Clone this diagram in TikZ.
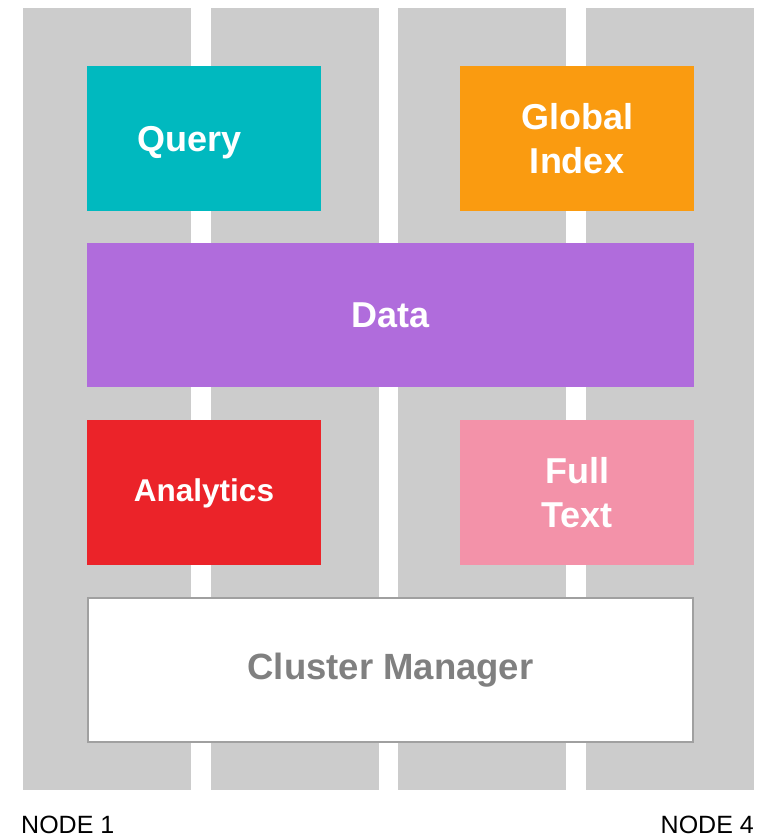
\documentclass[tikz,border=0pt]{standalone}
\usepackage{fontspec}
\setmainfont{Liberation Sans}
\definecolor{colgray}{HTML}{CCCCCC}
\definecolor{cteal}{HTML}{00B9BF}
\definecolor{corange}{HTML}{FA9B10}
\definecolor{cpurple}{HTML}{B06CDC}
\definecolor{cred}{HTML}{EB2329}
\definecolor{cpink}{HTML}{F392A9}
\definecolor{cmgrtext}{HTML}{808080}
\definecolor{cmgrline}{HTML}{A0A0A0}
\begin{document}
\begin{tikzpicture}[x=1pt,y=-1pt,
  colbar/.style={fill=colgray, draw=none},
  blk/.style={draw=none, inner sep=0pt, text=white,
    font=\fontsize{36}{44}\selectfont\bfseries, align=center,
    minimum width=234pt, minimum height=145pt, text height=25.8pt, text depth=0pt},
  twoline/.style={text height=69.8pt, text depth=0pt},
  wide/.style={minimum width=607pt, minimum height=144pt},
  caption/.style={font=\fontsize{25}{30}\selectfont, text=black, inner sep=0pt}
]
\useasboundingbox (0,0) rectangle (771,838);
% node columns
\foreach \x in {23,211,398,586}
  \fill[colbar] (\x,8) rectangle ++(168,782);
% blocks
\node[blk, fill=cteal] (query) at (204,138.5) {Query\kern29pt};
\node[blk, twoline, fill=corange] (gindex) at (577,138.5) {Global\\Index};
\node[blk, wide, fill=cpurple] (data) at (390.5,315) {Data};
\node[blk, fill=cred, font=\fontsize{31.5}{40}\selectfont\bfseries, text height=22.6pt, text depth=5pt] (analytics) at (204,492.5) {Analytics};
\node[blk, twoline, fill=cpink] (fulltext) at (577,492.5) {Full\\Text};
\node[blk, minimum width=605pt, minimum height=144pt, fill=white, draw=cmgrline, line width=2pt, text=cmgrtext, font=\fontsize{36.5}{44}\selectfont\bfseries, text height=26.1pt, text depth=7pt] (cmgr) at (390.5,670) {Cluster Manager};
% captions
\node[caption, anchor=base west] (n1) at (21,833) {NODE 1};
\node[caption, anchor=base east] (n4) at (754,833) {NODE 4};
\end{tikzpicture}
\end{document}
